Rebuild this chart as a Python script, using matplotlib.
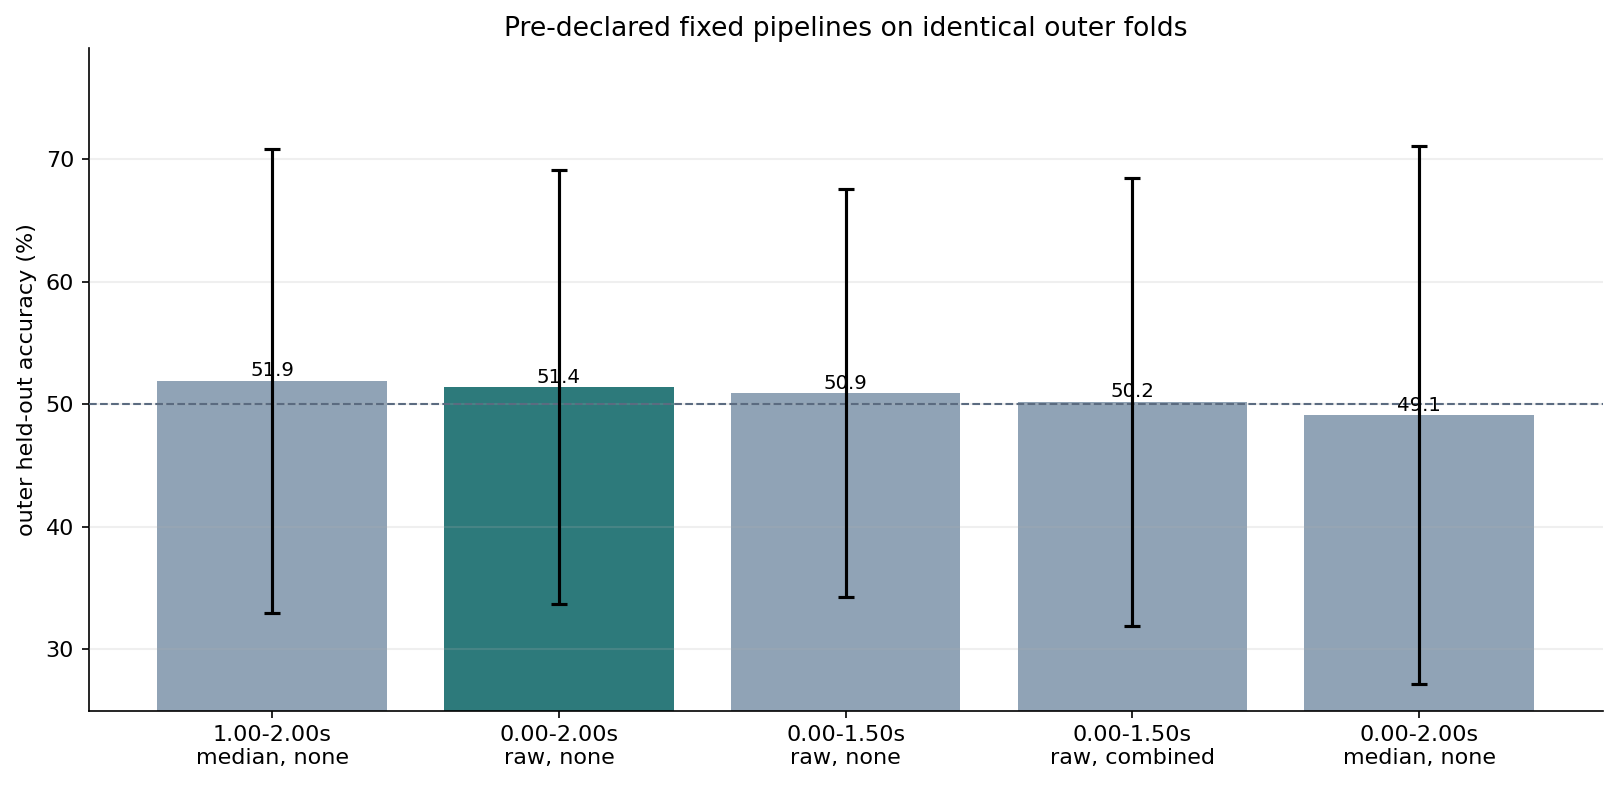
import matplotlib.pyplot as plt
import numpy as np

# pipelines (window / baseline, artifact handling)
labels = ["1.00-2.00s\nmedian, none", "0.00-2.00s\nraw, none", "0.00-1.50s\nraw, none",
          "0.00-1.50s\nraw, combined", "0.00-2.00s\nmedian, none"]
acc = [51.9, 51.4, 50.9, 50.2, 49.1]
sd = [18.9, 17.7, 16.65, 18.25, 21.95]
chosen = 1
chance = 50

colors = ["#2d7a7b" if i == chosen else "#90a3b6" for i in range(len(acc))]
x = np.arange(len(acc))

fig = plt.figure(figsize=(1618/150, 786/150), dpi=150)
ax = fig.add_axes([0.0548, 0.0958, 0.9357, 0.8428])

ax.bar(x, acc, width=0.8, color=colors, zorder=2)
ax.grid(axis="y", color="#b0b0b0", alpha=0.2, lw=1, zorder=3)
ax.set_axisbelow(False)
ax.axhline(chance, color="#5b6b80", ls="--", lw=1, zorder=4)
for xi, v in zip(x, acc):
    ax.text(xi, v + 0.05, f"{v:.1f}", ha="center", va="bottom", fontsize=9.5, zorder=5)
ax.errorbar(x, acc, yerr=sd, fmt="none", ecolor="black", elinewidth=1.5,
            capsize=4, capthick=1.5, zorder=6)

ax.set_xticks(x)
ax.set_xticklabels(labels, fontsize=10.7)
ax.tick_params(axis="y", labelsize=10.7)
ax.set_ylim(25, max(a + s for a, s in zip(acc, sd)) + 8)
ax.set_yticks([30, 40, 50, 60, 70])
ax.set_ylabel("outer held-out accuracy (%)", fontsize=10.7)
ax.set_title("Pre-declared fixed pipelines on identical outer folds", fontsize=12.8)
ax.spines["top"].set_visible(False)
ax.spines["right"].set_visible(False)

fig.savefig("out.png", dpi=150)
